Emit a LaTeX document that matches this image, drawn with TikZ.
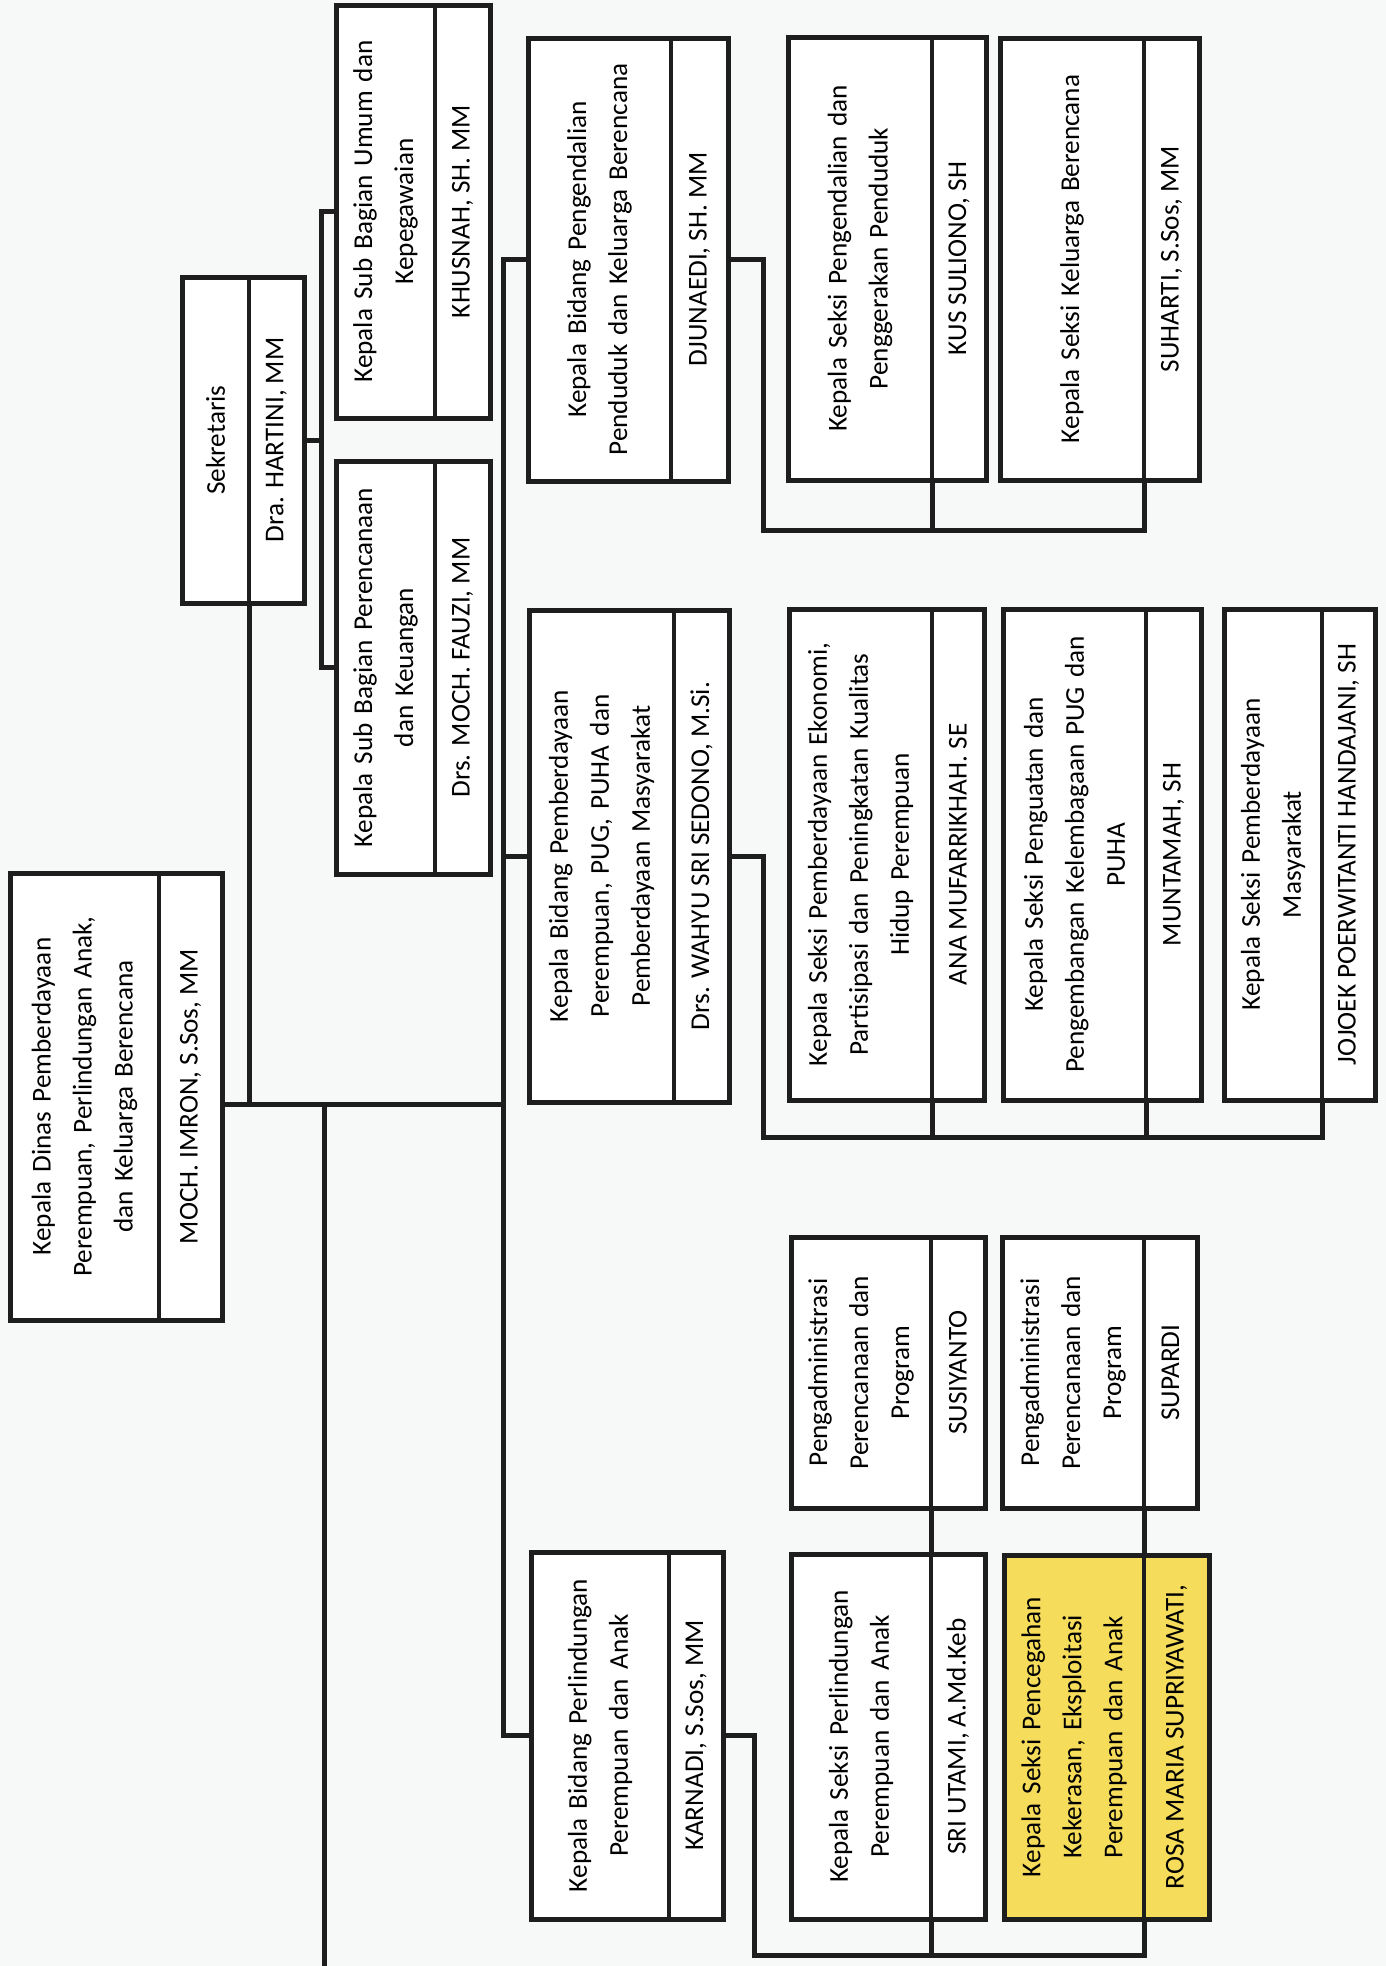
\documentclass[tikz,border=0pt]{standalone}
\usepackage{fontspec}
\setmainfont{Carlito}
\definecolor{bgc}{RGB}{247,249,249}
\definecolor{linec}{RGB}{30,30,30}
\definecolor{hiyel}{RGB}{245,220,90}
\tikzset{
  unitbox/.style={draw=linec, line width=2.5pt, inner sep=0pt, outer sep=0pt, rectangle},
  divline/.style={draw=linec, line width=2pt},
  conn/.style={draw=linec, line width=2.5pt, line cap=rect},
  titletext/.style={rotate=90, align=center, inner sep=0pt, font=\fontsize{13.6}{20.5}\selectfont, text=black},
  nametext/.style={rotate=90, align=center, inner sep=0pt, font=\fontsize{13.6}{20.5}\selectfont, text=black}
}
\newcommand{\OrgUnit}[9]{%
  \pgfmathsetmacro{\ubw}{(#4-#2)*0.5}%
  \pgfmathsetmacro{\ubh}{(#5-#3)*0.5}%
  \pgfmathsetmacro{\utw}{(#5-#3)*0.5-6}%
  \node[unitbox, fill=#7, minimum width=\ubw pt, minimum height=\ubh pt] (#1) at ({(#2+#4)/2},{(#3+#5)/2}) {};
  \coordinate (#1-dt) at (#6,#3);
  \coordinate (#1-db) at (#6,#5);
  \draw[divline] (#1-dt) -- (#1-db);
  \node[titletext, text width=\utw pt] (#1-t) at ({(#2+#6)/2},{(#3+#5)/2}) {#8};
  \node[nametext] (#1-p) at ({(#6+#4)/2},{(#3+#5)/2}) {#9};
}
\begin{document}
\begin{tikzpicture}[x=0.5pt,y=-0.5pt]
\fill[bgc] (0,0) rectangle (1386,1966);
\useasboundingbox (0,0) rectangle (1386,1966);

\OrgUnit{kadis}{10}{873}{222}{1320}{159}{white}{Kepala Dinas Pemberdayaan\\Perempuan, Perlindungan Anak,\\dan Keluarga Berencana}{MOCH. IMRON, S.Sos, MM}
\OrgUnit{sek}{182}{277}{304}{603}{249}{white}{Sekretaris}{Dra. HARTINI, MM}
\OrgUnit{subumum}{336}{5}{490}{418}{435}{white}{Kepala Sub Bagian Umum dan\\Kepegawaian}{KHUSNAH, SH. MM}
\OrgUnit{subren}{336}{461}{490}{874}{435}{white}{Kepala Sub Bagian Perencanaan\\dan Keuangan}{Drs. MOCH. FAUZI, MM}
\OrgUnit{bidkb}{528}{38}{728}{481}{671}{white}{Kepala Bidang Pengendalian\\Penduduk dan Keluarga Berencana}{DJUNAEDI, SH. MM}
\OrgUnit{skpp}{788}{37}{986}{480}{932}{white}{Kepala Seksi Pengendalian dan\\Penggerakan Penduduk}{KUS SULIONO, SH}
\OrgUnit{skkb}{1000}{38}{1199}{480}{1144}{white}{Kepala Seksi Keluarga Berencana}{SUHARTI, S.Sos, MM}
\OrgUnit{bidpp}{529}{610}{729}{1102}{674}{white}{Kepala Bidang Pemberdayaan\\Perempuan, PUG, PUHA dan\\Pemberdayaan Masyarakat}{Drs. WAHYU SRI SEDONO, M.Si.}
\OrgUnit{skek}{789}{609}{984}{1100}{932}{white}{Kepala Seksi Pemberdayaan Ekonomi,\\Partisipasi dan Peningkatan Kualitas\\Hidup Perempuan}{ANA MUFARRIKHAH. SE}
\OrgUnit{skpug}{1003}{609}{1201}{1100}{1146}{white}{Kepala Seksi Penguatan dan\\Pengembangan Kelembagaan PUG dan\\PUHA}{MUNTAMAH, SH}
\OrgUnit{skpm}{1224}{609}{1375}{1100}{1322}{white}{Kepala Seksi Pemberdayaan\\Masyarakat}{JOJOEK POERWITANTI HANDAJANI, SH}
\OrgUnit{adm1}{791}{1237}{985}{1508}{931}{white}{Pengadministrasi\\Perencanaan dan\\Program}{SUSIYANTO}
\OrgUnit{adm2}{1002}{1237}{1197}{1508}{1144}{white}{Pengadministrasi\\Perencanaan dan\\Program}{SUPARDI}
\OrgUnit{bidpa}{531}{1552}{723}{1919}{669}{white}{Kepala Bidang Perlindungan\\Perempuan dan Anak}{KARNADI, S.Sos, MM}
\OrgUnit{skpa}{791}{1554}{985}{1919}{931}{white}{Kepala Seksi Perlindungan\\Perempuan dan Anak}{SRI UTAMI, A.Md.Keb}
\OrgUnit{skpk}{1004}{1555}{1209}{1919}{1144}{hiyel}{Kepala Seksi Pencegahan\\Kekerasan, Eksploitasi\\Perempuan dan Anak}{ROSA MARIA SUPRIYAWATI,}

% junction coordinates
\coordinate (jk) at (503,1104);
\coordinate (js) at (249,1104);
\coordinate (jd) at (324,1104);
\coordinate (jdend) at (324,1966);
\coordinate (sekbot) at (249,603);
\coordinate (ss) at (321,441);
\coordinate (kbx) at (763,530);
\coordinate (ppx) at (763,1137);
\coordinate (pax) at (754,1955);

% head connectors
\draw[conn] (kadis.east |- jk) -- (jk);
\draw[conn] (sekbot) -- (js);
\draw[conn] (jd) -- (jdend);
\draw[conn] (bidkb.west) -- (bidkb.west -| jk) -- (bidpa.west -| jk) -- (bidpa.west);
\draw[conn] (bidpp.west) -- (bidpp.west -| jk);

% sekretariat
\draw[conn] (sek.east) -- (sek.east -| ss);
\draw[conn] (subumum.west) -- (subumum.west -| ss) -- (subren.west -| ss) -- (subren.west);

% bidang KB
\draw[conn] (bidkb.east) -| (kbx) -- (kbx -| skkb-db);
\draw[conn] (skpp-db) -- (skpp-db |- kbx);
\draw[conn] (skkb-db) -- (skkb-db |- kbx);

% bidang pemberdayaan
\draw[conn] (bidpp.east) -| (ppx) -- (ppx -| skpm-db);
\draw[conn] (skek-db) -- (skek-db |- ppx);
\draw[conn] (skpug-db) -- (skpug-db |- ppx);
\draw[conn] (skpm-db) -- (skpm-db |- ppx);

% bidang perlindungan
\draw[conn] (bidpa.east) -| (pax) -- (pax -| skpk-db);
\draw[conn] (adm1-db) -- (skpa-dt);
\draw[conn] (skpa-db) -- (skpa-db |- pax);
\draw[conn] (adm2-db) -- (skpk-dt);
\draw[conn] (skpk-db) -- (skpk-db |- pax);
\end{tikzpicture}
\end{document}
